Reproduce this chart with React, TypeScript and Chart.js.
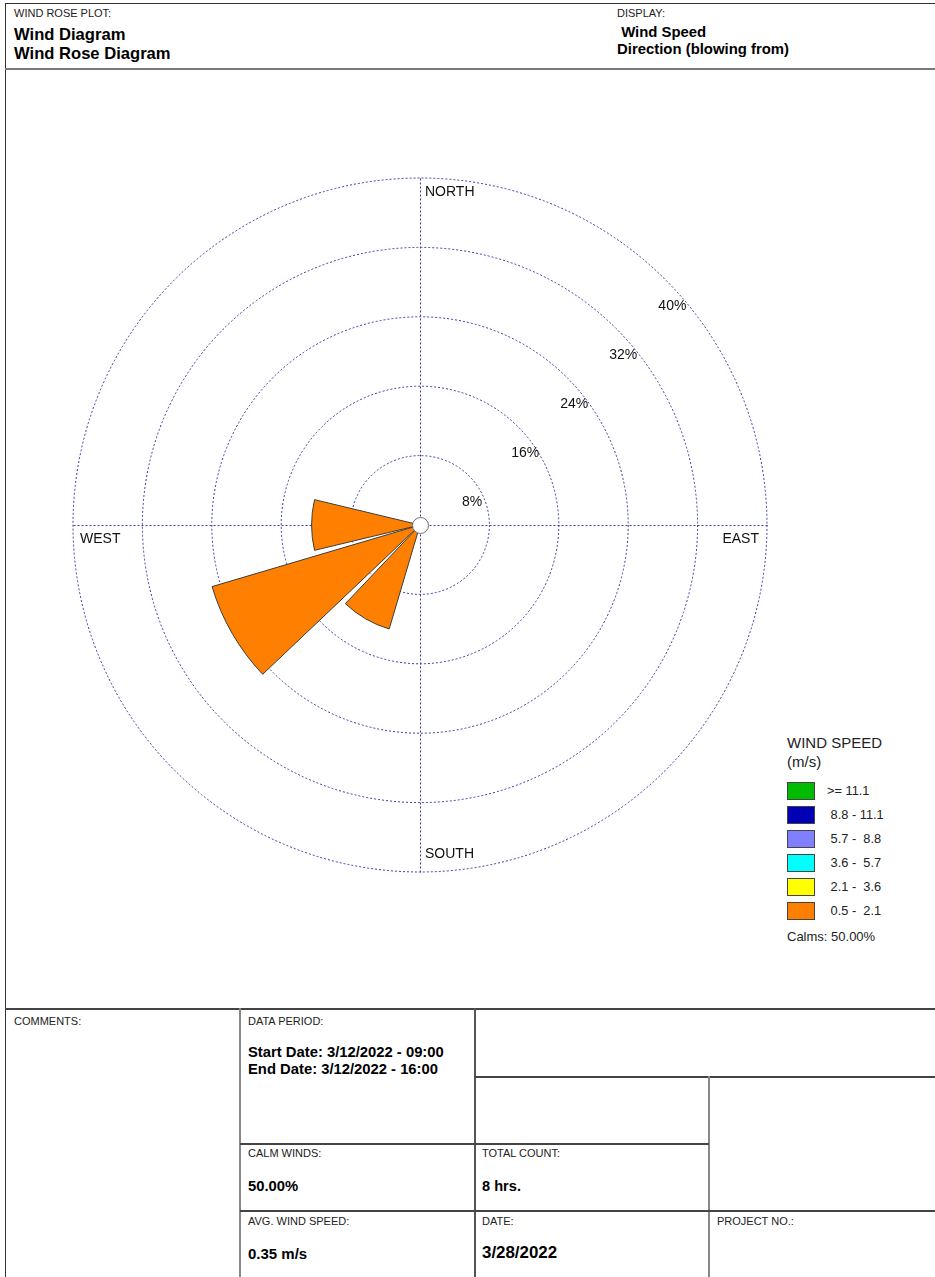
import React, { useEffect, useRef } from 'react';
import { Chart, registerables } from 'chart.js';

Chart.register(...registerables);

// ---- data ----
const DIRECTION_DEG = [0, 30, 60, 90, 120, 150, 180, 210, 240, 270, 300, 330];
const FREQ_05_21 = [0, 0, 0, 0, 0, 0, 0, 12.5, 25, 12.5, 0, 0]; // % of hours, 0.5 - 2.1 m/s
const RING_TICKS = [8, 16, 24, 32, 40];
const RING_LABELS = ['8%', '16%', '24%', '32%', '40%'];
const CARDINALS = ['NORTH', 'EAST', 'SOUTH', 'WEST'];
const SPEED_CLASSES = ['>= 11.1', ' 8.8 - 11.1', ' 5.7 -  8.8', ' 3.6 -  5.7', ' 2.1 -  3.6', ' 0.5 -  2.1'];
const SPEED_COLORS = ['#00BB00', '#0000B4', '#8080FF', '#00FFFF', '#FFFF00', '#FF8000'];
const CALMS_TEXT = 'Calms: 50.00%';

const WEDGE_DEG = 27;
const GAP_DEG = 3;
const GRID_COLOR = '#3a3aa6';
const FONT = '"Liberation Sans", Arial, sans-serif';

const roseLabels: string[] = [];
const roseValues: number[] = [];
DIRECTION_DEG.forEach((d, i) => {
  roseLabels.push(d + '°');
  roseValues.push(FREQ_05_21[i]);
  roseLabels.push('');
  roseValues.push(0);
});

const rosePlugin = {
  id: 'roseDecor',
  beforeDatasetsDraw(chart: any) {
    const s = chart.scales.r;
    const ctx = chart.ctx as CanvasRenderingContext2D;
    const R = s.getDistanceFromCenterForValue(RING_TICKS[RING_TICKS.length - 1]);
    const cx = s.xCenter + 0.5;
    const cy = s.yCenter + 0.5;
    ctx.save();
    ctx.strokeStyle = GRID_COLOR;
    ctx.lineWidth = 1;
    ctx.setLineDash([2, 2]);
    ctx.beginPath();
    ctx.moveTo(cx, cy - R);
    ctx.lineTo(cx, cy + R);
    ctx.moveTo(cx - R, cy);
    ctx.lineTo(cx + R, cy);
    ctx.stroke();
    ctx.restore();
  },
  afterDatasetsDraw(chart: any) {
    const s = chart.scales.r;
    const ctx = chart.ctx as CanvasRenderingContext2D;
    const R = s.getDistanceFromCenterForValue(RING_TICKS[RING_TICKS.length - 1]);
    const cx = s.xCenter;
    const cy = s.yCenter;
    ctx.save();
    // calm circle
    ctx.beginPath();
    ctx.arc(cx + 0.5, cy + 0.5, 8, 0, Math.PI * 2);
    ctx.fillStyle = '#ffffff';
    ctx.fill();
    ctx.strokeStyle = '#707070';
    ctx.lineWidth = 1;
    ctx.stroke();

    ctx.fillStyle = '#111111';
    ctx.font = '14px ' + FONT;
    ctx.textBaseline = 'alphabetic';
    // cardinal labels
    ctx.textAlign = 'left';
    ctx.fillText(CARDINALS[0], cx + 5, cy - R + 18);
    ctx.fillText(CARDINALS[2], cx + 5, cy + R - 14);
    ctx.fillText(CARDINALS[3], cx - R + 7, cy + 18);
    ctx.textAlign = 'right';
    ctx.fillText(CARDINALS[1], cx + R - 8, cy + 18);
    // ring labels along NE
    ctx.textAlign = 'left';
    RING_TICKS.forEach((v, i) => {
      const r = s.getDistanceFromCenterForValue(v);
      const px = cx + r * Math.SQRT1_2;
      const py = cy - r * Math.SQRT1_2;
      ctx.fillText(RING_LABELS[i], px - 7, py + 30);
    });
    ctx.restore();
  },
};

function Line({ x, y, w, h, c = '#333' }: { x: number; y: number; w: number; h: number; c?: string }) {
  return <div style={{ position: 'absolute', left: x, top: y, width: w, height: h, background: c }} />;
}

function Txt({ x, y, size, bold, color, children }: any) {
  return (
    <div
      style={{
        position: 'absolute',
        left: x,
        top: y - 0.13 * size,
        fontSize: size,
        lineHeight: 1,
        fontWeight: bold ? 'bold' : 'normal',
        color: color || (bold ? '#000' : '#222'),
        whiteSpace: 'pre',
      }}
    >
      {children}
    </div>
  );
}

export default function App() {
  const ref = useRef<HTMLCanvasElement>(null);

  useEffect(() => {
    const chart = new Chart(ref.current as HTMLCanvasElement, {
      type: 'polarArea',
      data: {
        labels: roseLabels,
        datasets: [
          {
            label: SPEED_CLASSES[5],
            data: roseValues,
            backgroundColor: SPEED_COLORS[5],
            borderColor: '#3c3c3c',
            borderWidth: (c: any) => (c.dataIndex % 2 === 0 ? 1 : 0),
            angle: (c: any) => (c.dataIndex % 2 === 0 ? WEDGE_DEG : GAP_DEG),
          } as any,
        ],
      },
      options: {
        responsive: false,
        maintainAspectRatio: false,
        animation: false,
        layout: { padding: 10 },
        plugins: { legend: { display: false }, tooltip: { enabled: false } },
        scales: {
          r: {
            min: 0,
            max: RING_TICKS[RING_TICKS.length - 1],
            startAngle: -WEDGE_DEG / 2,
            ticks: { display: false, stepSize: RING_TICKS[0] },
            grid: { circular: true, color: GRID_COLOR, lineWidth: 1 },
            border: { dash: [2, 2] },
            angleLines: { display: false },
            pointLabels: { display: false },
          } as any,
        },
      },
      plugins: [rosePlugin],
    });
    return () => chart.destroy();
  }, []);

  return (
    <div
      style={{
        position: 'absolute',
        left: 0,
        top: 0,
        width: 935,
        height: 1277,
        background: '#fff',
        overflow: 'hidden',
        fontFamily: FONT,
      }}
    >
      {/* frame */}
      <Line x={5} y={3} w={930} h={1} />
      <Line x={5} y={3} w={1} h={1274} />
      <Line x={5} y={68} w={930} h={2} c="#7a7a7a" />
      <Line x={5} y={1008} w={930} h={1.5} c="#444" />
      <Line x={239} y={1008} w={2} h={269} c="#888" />
      <Line x={474} y={1008} w={1.5} h={269} c="#555" />
      <Line x={475} y={1076} w={460} h={1.5} c="#444" />
      <Line x={708} y={1076} w={2} h={201} c="#888" />
      <Line x={240} y={1143} w={469} h={1.5} c="#444" />
      <Line x={240} y={1210} w={695} h={1.5} c="#444" />

      {/* header */}
      <Txt x={14} y={9.5} size={11}>WIND ROSE PLOT:</Txt>
      <Txt x={14} y={29.2} size={16.6} bold>Wind Diagram</Txt>
      <Txt x={14} y={48.3} size={16.6} bold>Wind Rose Diagram</Txt>
      <Txt x={617} y={9.5} size={11}>DISPLAY:</Txt>
      <Txt x={617} y={26.6} size={14.9} bold>{' Wind Speed'}</Txt>
      <Txt x={617} y={43.6} size={14.9} bold>Direction (blowing from)</Txt>

      {/* chart */}
      <canvas
        ref={ref}
        width={714}
        height={714}
        style={{ position: 'absolute', left: 63, top: 168, width: 714, height: 714 }}
      />

      {/* legend */}
      <Txt x={787} y={736.6} size={15}>WIND SPEED</Txt>
      <Txt x={787} y={755.6} size={15}>(m/s)</Txt>
      {SPEED_CLASSES.map((lbl, i) => (
        <React.Fragment key={lbl}>
          <div
            style={{
              position: 'absolute',
              left: 787,
              top: 782 + 24 * i,
              width: 28,
              height: 18,
              boxSizing: 'border-box',
              border: '1px solid #444',
              background: SPEED_COLORS[i],
            }}
          />
          <Txt x={827} y={786.4 + 24 * i} size={12.8}>{lbl}</Txt>
        </React.Fragment>
      ))}
      <Txt x={787} y={931.4} size={13}>{CALMS_TEXT}</Txt>

      {/* bottom table */}
      <Txt x={14} y={1017} size={11}>COMMENTS:</Txt>
      <Txt x={248} y={1017} size={11}>DATA PERIOD:</Txt>
      <Txt x={248} y={1046.6} size={14.8} bold>Start Date: 3/12/2022 - 09:00</Txt>
      <Txt x={248} y={1063.6} size={14.8} bold>End Date: 3/12/2022 - 16:00</Txt>
      <Txt x={248} y={1149} size={11}>CALM WINDS:</Txt>
      <Txt x={482} y={1149} size={11}>TOTAL COUNT:</Txt>
      <Txt x={248} y={1180.6} size={14.8} bold>50.00%</Txt>
      <Txt x={482} y={1180.6} size={14.6} bold>8 hrs.</Txt>
      <Txt x={248} y={1217} size={11}>AVG. WIND SPEED:</Txt>
      <Txt x={482} y={1217} size={11}>DATE:</Txt>
      <Txt x={717} y={1217} size={11}>PROJECT NO.:</Txt>
      <Txt x={248} y={1247.6} size={15} bold>0.35 m/s</Txt>
      <Txt x={482} y={1247} size={16.9} bold>3/28/2022</Txt>
    </div>
  );
}
